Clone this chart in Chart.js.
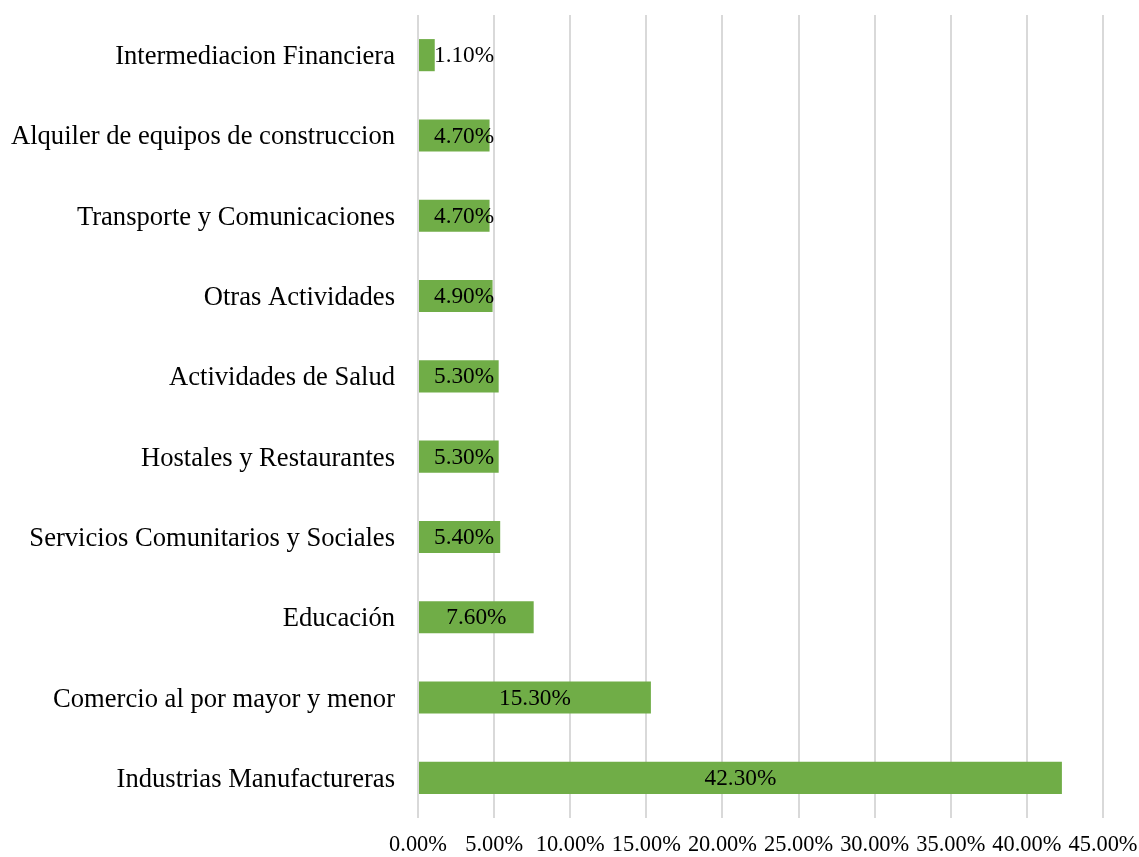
<!DOCTYPE html>
<html lang="es">
<head>
    <meta charset="UTF-8">
    <title>Sectores</title>
    <script src="https://cdn.jsdelivr.net/npm/chart.js"></script>
    <style>
        html, body { margin: 0; padding: 0; background: #fff; }
        #wrap { width: 1139px; height: 857px; }
    </style>
</head>
<body>
    <div id="wrap"><canvas id="chart" width="1139" height="857"></canvas></div>

    <script>
        // Datos (de arriba hacia abajo)
        const categories = [
            'Intermediacion Financiera',
            'Alquiler de equipos de construccion',
            'Transporte y Comunicaciones',
            'Otras Actividades',
            'Actividades de Salud',
            'Hostales y Restaurantes',
            'Servicios Comunitarios y Sociales',
            'Educación',
            'Comercio al por mayor y menor',
            'Industrias Manufactureras'
        ];
        const values = [1.1, 4.7, 4.7, 4.9, 5.3, 5.3, 5.4, 7.6, 15.3, 42.3];
        const xTicks = [0, 5, 10, 15, 20, 25, 30, 35, 40, 45];

        const serif = '"Liberation Serif", "Times New Roman", serif';

        // Etiquetas de datos dentro de las barras
        const barLabels = {
            id: 'barLabels',
            afterDatasetsDraw(chart) {
                const ctx = chart.ctx;
                const meta = chart.getDatasetMeta(0);
                ctx.save();
                ctx.font = '23.3px ' + serif;
                ctx.fillStyle = '#000';
                ctx.textAlign = 'left';
                ctx.textBaseline = 'middle';
                meta.data.forEach((bar, i) => {
                    const txt = values[i].toFixed(2) + '%';
                    const w = ctx.measureText(txt).width;
                    const center = (bar.base + bar.x) / 2;
                    const left = Math.max(center - w / 2, bar.base + 15);
                    ctx.fillText(txt, left, bar.y + 1);
                });
                ctx.restore();
            }
        };

        const ctx = document.getElementById('chart').getContext('2d');
        new Chart(ctx, {
            type: 'bar',
            data: {
                labels: categories,
                datasets: [{
                    data: values,
                    backgroundColor: '#70ad47',
                    borderWidth: 0,
                    categoryPercentage: 1,
                    barPercentage: 0.4
                }]
            },
            options: {
                indexAxis: 'y',
                responsive: false,
                animation: false,
                layout: { padding: { top: 15, right: 36, bottom: 0, left: 0 } },
                plugins: {
                    legend: { display: false },
                    tooltip: { enabled: false }
                },
                scales: {
                    x: {
                        min: 0,
                        max: 45,
                        afterBuildTicks(scale) {
                            scale.ticks = xTicks.map(v => ({ value: v }));
                        },
                        afterFit(scale) {
                            scale.height = 39;
                            scale.paddingLeft = 0;
                            scale.paddingRight = 0;
                        },
                        grid: { color: '#d9d9d9', lineWidth: 2, drawTicks: false },
                        border: { display: false },
                        ticks: {
                            padding: 14,
                            color: '#000',
                            font: { family: serif, size: 22.4 },
                            maxRotation: 0,
                            autoSkip: false,
                            callback: v => v.toFixed(2) + '%'
                        }
                    },
                    y: {
                        afterFit(scale) {
                            scale.width = 418;
                            scale.paddingTop = 0;
                            scale.paddingBottom = 0;
                        },
                        grid: { display: false, drawTicks: false },
                        border: { display: false },
                        ticks: {
                            padding: 23,
                            labelOffset: 2,
                            color: '#000',
                            font: { family: serif, size: 26.6 },
                            autoSkip: false
                        }
                    }
                }
            },
            plugins: [barLabels]
        });
    </script>
</body>
</html>
